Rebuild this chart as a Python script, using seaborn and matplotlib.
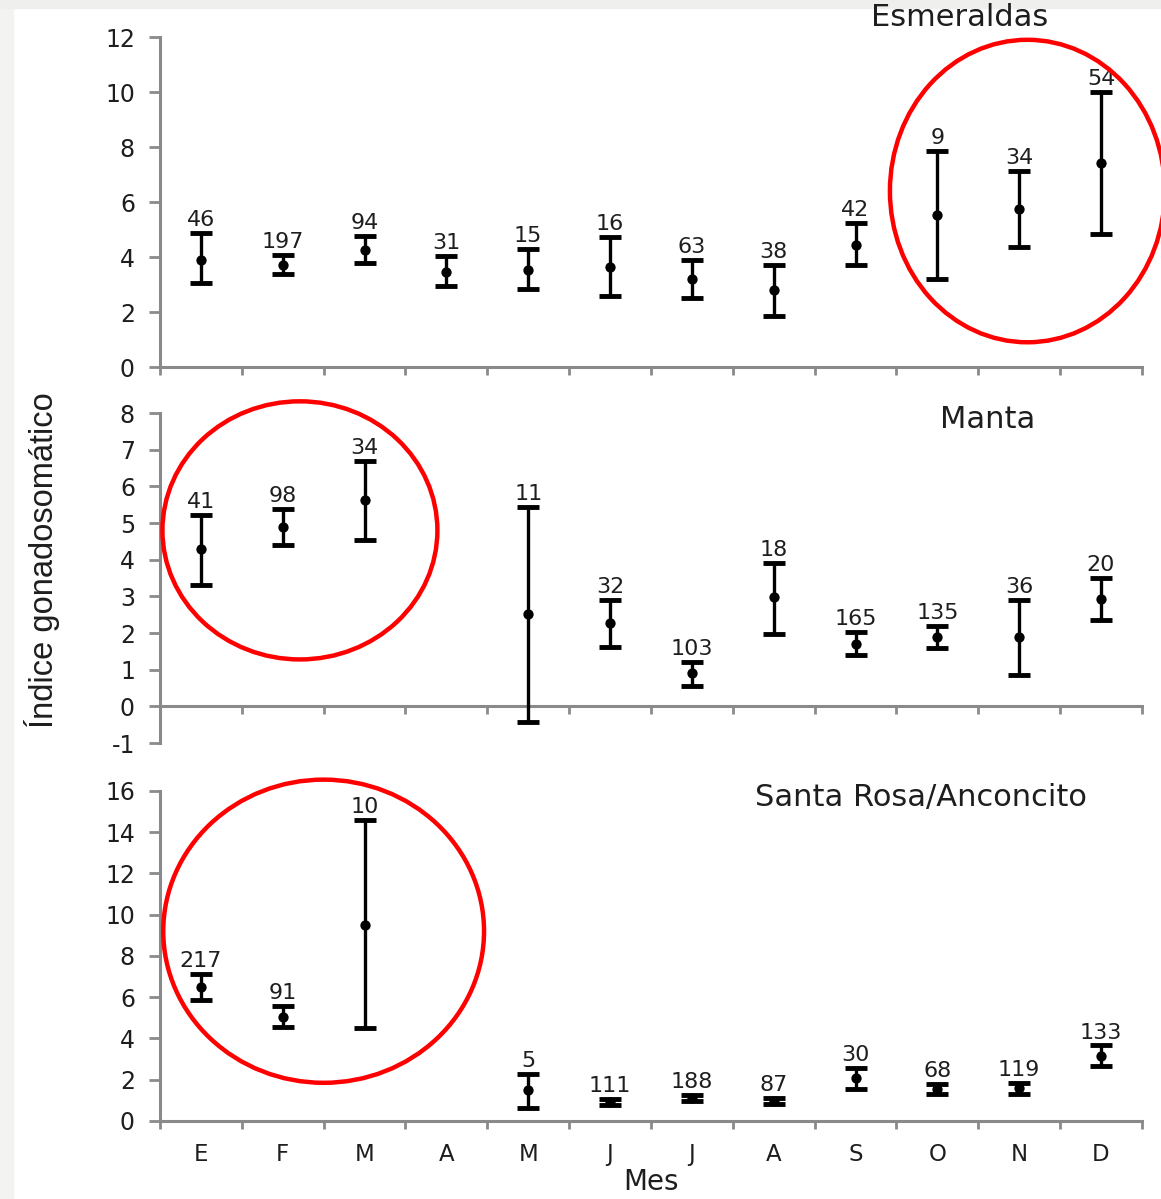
import numpy as np
import pandas as pd
import matplotlib
matplotlib.use("Agg")
import matplotlib.pyplot as plt
import seaborn as sns
from matplotlib.patches import Ellipse, Rectangle

nan = np.nan

# Month initials (Spanish)
months = ["E", "F", "M", "A", "M", "J", "J", "A", "S", "O", "N", "D"]

# Esmeraldas: mean, lower and upper bound of the interval, sample size
esm_mean = [3.91, 3.72, 4.27, 3.46, 3.51, 3.64, 3.20, 2.80, 4.44, 5.53, 5.75, 7.42]
esm_low = [3.04, 3.37, 3.79, 2.95, 2.83, 2.58, 2.51, 1.85, 3.71, 3.20, 4.36, 4.84]
esm_high = [4.86, 4.06, 4.78, 4.03, 4.29, 4.73, 3.89, 3.71, 5.24, 7.85, 7.13, 10.00]
esm_n = [46, 197, 94, 31, 15, 16, 63, 38, 42, 9, 34, 54]

# Manta (no April sample)
man_mean = [4.28, 4.89, 5.63, nan, 2.52, 2.27, 0.92, 2.98, 1.71, 1.89, 1.89, 2.94]
man_low = [3.30, 4.39, 4.54, nan, -0.44, 1.62, 0.56, 1.98, 1.39, 1.59, 0.86, 2.35]
man_high = [5.21, 5.38, 6.70, nan, 5.44, 2.89, 1.22, 3.90, 2.04, 2.18, 2.89, 3.49]
man_n = [41, 98, 34, None, 11, 32, 103, 18, 165, 135, 36, 20]

# Santa Rosa / Anconcito (no April sample)
sra_mean = [6.50, 5.04, 9.52, nan, 1.52, 0.91, 1.12, 0.97, 2.06, 1.57, 1.60, 3.15]
sra_low = [5.88, 4.56, 4.51, nan, 0.65, 0.76, 0.97, 0.81, 1.54, 1.29, 1.32, 2.65]
sra_high = [7.11, 5.56, 14.58, nan, 2.30, 1.05, 1.28, 1.13, 2.57, 1.81, 1.85, 3.66]
sra_n = [217, 91, 10, None, 5, 111, 188, 87, 30, 68, 119, 133]

sns.set_style("white")
plt.rcParams["font.family"] = ["DejaVu Sans"]
plt.rcParams["axes.unicode_minus"] = False

GRAY = "#8a8a8a"
TXT = "#1e1e1e"

fig = plt.figure(figsize=(11.61, 11.99), dpi=100)
fig.patch.set_facecolor("white")

# light frame strips around the slide
fig.add_artist(Rectangle((0, 0), 0.011, 1, transform=fig.transFigure,
                         color="#f3f3f1", zorder=0))
fig.add_artist(Rectangle((0, 0.9935), 1, 0.0065, transform=fig.transFigure,
                         color="#efefed", zorder=0))

panels = [
    dict(title="Esmeraldas", mean=esm_mean, low=esm_low, high=esm_high, n=esm_n,
         ylim=(0, 12), yticks=np.arange(0, 13, 2), bottom=0.6939,
         title_xy=(0.814, 1.058), ring=(10.1, 6.4, 3.36, 11.0)),
    dict(title="Manta", mean=man_mean, low=man_low, high=man_high, n=man_n,
         ylim=(-1, 8), yticks=np.arange(-1, 9, 1), bottom=0.3803,
         title_xy=(0.843, 0.979), ring=(1.21, 4.8, 3.36, 7.04)),
    dict(title="Santa Rosa/Anconcito", mean=sra_mean, low=sra_low, high=sra_high, n=sra_n,
         ylim=(0, 16), yticks=np.arange(0, 17, 2), bottom=0.0651,
         title_xy=(0.775, 0.979), ring=(1.5, 9.2, 3.92, 14.7)),
]

pos = np.arange(len(months))

for k, p in enumerate(panels):
    ax = fig.add_axes([0.1378, p["bottom"], 0.8458, 0.2752])
    ax.set_facecolor("none")
    df = pd.DataFrame({"pos": pos, "mean": p["mean"], "low": p["low"],
                       "high": p["high"], "n": p["n"]})
    valid = df.dropna(subset=["mean"])

    ax.errorbar(valid["pos"], valid["mean"],
                yerr=[valid["mean"] - valid["low"], valid["high"] - valid["mean"]],
                fmt="none", ecolor="black", elinewidth=2.4, capsize=8,
                capthick=3.5, zorder=3)
    sns.scatterplot(data=valid, x="pos", y="mean", ax=ax, color="black",
                    s=55, marker="o", edgecolor="black", linewidth=0, zorder=4,
                    legend=False)

    for _, r in valid.iterrows():
        ax.annotate(f"{int(r['n'])}", (r["pos"], r["high"]), xytext=(0, 5),
                    textcoords="offset points", ha="center", va="baseline",
                    fontsize=16, color=TXT)

    ax.set_xlim(-0.5, 11.5)
    ax.set_ylim(*p["ylim"])
    ax.set_yticks(p["yticks"])
    ax.set_xticks(np.arange(-0.5, 12, 1))
    ax.set_xticklabels([])
    ax.set_xticks(pos, minor=True)

    for side in ("top", "right"):
        ax.spines[side].set_visible(False)
    for side in ("left", "bottom"):
        ax.spines[side].set_color(GRAY)
        ax.spines[side].set_linewidth(2.2)
    if p["ylim"][0] < 0:
        ax.spines["bottom"].set_position(("data", 0))

    ax.tick_params(axis="y", which="major", left=True, direction="out",
                   length=8, width=2, color=GRAY, labelsize=17,
                   labelcolor=TXT, pad=10)
    ax.tick_params(axis="x", which="major", bottom=True, direction="out",
                   length=6, width=2, color=GRAY)
    ax.tick_params(axis="x", which="minor", bottom=True, length=0,
                   labelsize=16.5, labelcolor=TXT, pad=16)
    if k == 2:
        ax.set_xticklabels(months, minor=True)
        ax.set_xlabel("Mes", fontsize=20, color=TXT, labelpad=1)
    else:
        ax.set_xticklabels([], minor=True)
        ax.set_xlabel("")
    ax.set_ylabel("")

    ax.text(p["title_xy"][0], p["title_xy"][1], p["title"], transform=ax.transAxes,
            ha="center", va="center", fontsize=22, color=TXT)

    cx, cy, w, h = p["ring"]
    ax.add_patch(Ellipse((cx, cy), w, h, fill=False, edgecolor="#ff0000",
                         linewidth=3.2, clip_on=False, zorder=5))

fig.text(0.036, 0.533, "Índice gonadosomático", rotation=90, ha="center",
         va="center", fontsize=23.5, color=TXT,
         family=["Liberation Sans", "DejaVu Sans"])

fig.savefig("out.png", dpi=100, facecolor=fig.get_facecolor())
